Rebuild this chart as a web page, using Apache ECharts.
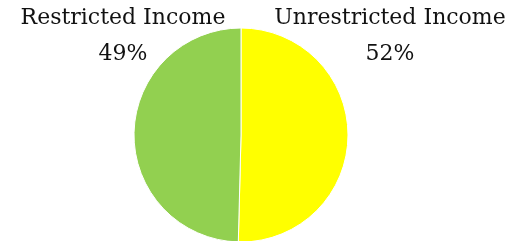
<!DOCTYPE html>
<html>
<head>
<meta charset="utf-8">
<script src="https://cdn.jsdelivr.net/npm/echarts@6/dist/echarts.min.js"></script>
<style>
  html, body { margin: 0; padding: 0; background: #fff; }
  #chart { width: 516px; height: 241px; }
</style>
</head>
<body>
<div id="chart"></div>
<script>
// income split pie
var categories = ["Unrestricted Income", "Restricted Income"];
var shares = [50.4, 49.6];      // slice sizes as drawn
var labelPct = [52, 49];        // percentages printed on the labels
var colors = ["#FFFF00", "#92D050"];

var chart = echarts.init(document.getElementById("chart"));
var labelX = [390, 123]; // label centres

chart.setOption({
  animation: false,
  series: [{
    type: "pie",
    center: [241, 135],
    radius: 107,
    startAngle: 90,
    clockwise: true,
    itemStyle: { borderColor: "#fff", borderWidth: 1 },
    label: {
      show: true,
      position: "outside",
      formatter: function (p) {
        return p.name + "\n" + labelPct[p.dataIndex] + "%";
      },
      fontFamily: "DejaVu Serif",
      fontSize: 22,
      lineHeight: 36,
      color: "#111",
      align: "center",
      width: 300,
      overflow: "none"
    },
    labelLine: { show: false },
    labelLayout: function (params) {
      return { x: labelX[params.dataIndex], y: 36, align: "center", verticalAlign: "middle" };
    },
    data: categories.map(function (c, i) {
      return { name: c, value: shares[i], itemStyle: { color: colors[i] } };
    })
  }]
});
</script>
</body>
</html>
